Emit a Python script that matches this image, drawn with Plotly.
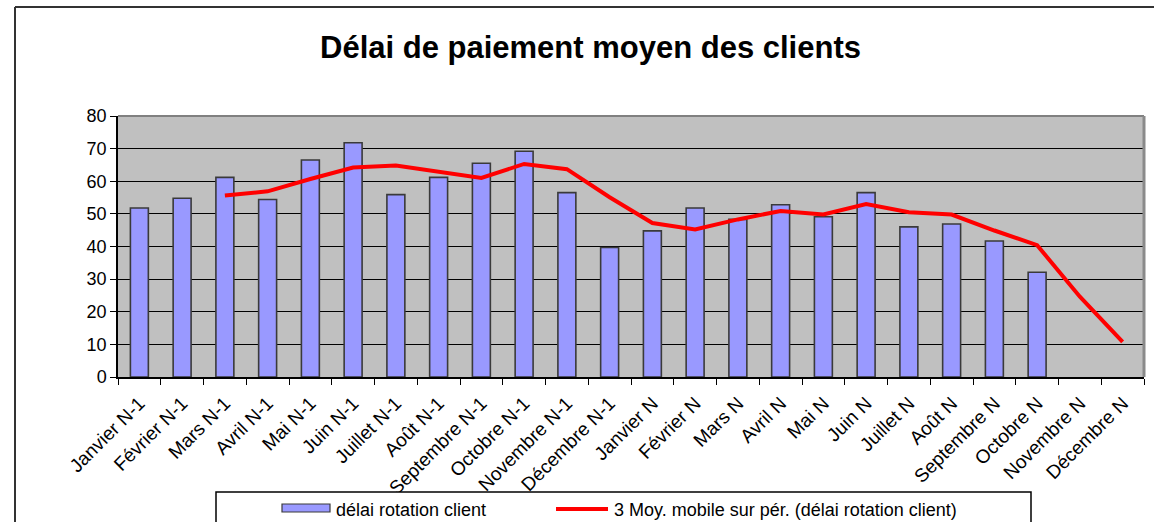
import plotly.graph_objects as go

months = ["Janvier N-1", "Février N-1", "Mars N-1", "Avril N-1", "Mai N-1", "Juin N-1",
          "Juillet N-1", "Août N-1", "Septembre N-1", "Octobre N-1", "Novembre N-1", "Décembre N-1",
          "Janvier N", "Février N", "Mars N", "Avril N", "Mai N", "Juin N",
          "Juillet N", "Août N", "Septembre N", "Octobre N", "Novembre N", "Décembre N"]

delai_rotation = [51.8, 54.8, 61.2, 54.4, 66.5, 71.8, 55.9, 61.2, 65.5, 69.2, 56.5, 39.7,
                  44.8, 51.8, 48.3, 52.8, 49.1, 56.5, 46.0, 46.9, 41.7, 32.1, None, None]

moy_mobile = [None, None, 55.6, 56.9, 60.7, 64.2, 64.8, 63.0, 61.0, 65.3, 63.7, 55.1,
              47.2, 45.2, 48.3, 50.9, 49.8, 53.0, 50.5, 49.8, 44.9, 40.4, 24.6, 10.8]

title_text = "Délai de paiement moyen des clients"
bar_name = "délai rotation client"
line_name = "3 Moy. mobile sur pér. (délai rotation client)"
y_ticks = [0, 10, 20, 30, 40, 50, 60, 70, 80]

FONT = "Liberation Sans, Arial, sans-serif"

# pixel geometry helpers (figure 1154x522, plot area 118..1144 x 116..377)
L, R, T, B = 118, 1144, 116, 377
W, H = 1154, 522


def px(x):
    return (x - L) / (R - L)


def py(y):
    return (B - y) / (B - T)


fig = go.Figure()
fig.add_trace(go.Bar(
    x=months, y=delai_rotation, name=bar_name,
    marker=dict(color="#9999FF", line=dict(color="#3a3a3a", width=1.6)),
    width=0.42, showlegend=False,
))
fig.add_trace(go.Scatter(
    x=months, y=moy_mobile, name=line_name, mode="lines",
    line=dict(color="#FF0000", width=4), connectgaps=False, showlegend=False,
))

fig.update_layout(
    width=W, height=H,
    margin=dict(l=L, r=W - R, t=T, b=H - B),
    paper_bgcolor="white", plot_bgcolor="#C0C0C0",
    font=dict(family=FONT, color="black"),
)
fig.update_xaxes(
    type="category", categoryorder="array", categoryarray=months,
    tickangle=-45, tickfont=dict(size=19, family=FONT, color="black"),
    ticks="outside", tickson="boundaries", ticklen=6, tickcolor="black",
    ticklabelstandoff=6,
    showline=True, linecolor="black", linewidth=1.5, showgrid=False,
    range=[-0.5, 23.5],
)
fig.update_yaxes(
    range=[0, 80], tickvals=y_ticks, tickfont=dict(size=18, family=FONT, color="black"),
    ticks="outside", ticklen=6, tickcolor="black",
    showline=True, linecolor="black", linewidth=1.5,
    showgrid=True, gridcolor="black", gridwidth=1.2, zeroline=False,
)

shapes = []
# plot-area top/right border (gray)
shapes.append(dict(type="line", xref="paper", yref="paper", x0=0, x1=1, y0=1, y1=1,
                   line=dict(color="#808080", width=2)))
shapes.append(dict(type="line", xref="paper", yref="paper", x0=1, x1=1, y0=0, y1=1,
                   line=dict(color="#8a8a8a", width=3)))
# outer chart frame (left and top edges visible)
shapes.append(dict(type="line", xref="paper", yref="paper", x0=px(15), x1=px(15), y0=py(530), y1=py(7),
                   line=dict(color="#333333", width=2)))
shapes.append(dict(type="line", xref="paper", yref="paper", x0=px(15), x1=px(1160), y0=py(7), y1=py(7),
                   line=dict(color="#333333", width=2)))
# legend box
shapes.append(dict(type="rect", xref="paper", yref="paper", x0=px(216), x1=px(1031), y0=py(530), y1=py(492),
                   line=dict(color="black", width=1.5), fillcolor="white"))
# legend symbols
shapes.append(dict(type="rect", xref="paper", yref="paper", x0=px(282), x1=px(330), y0=py(512), y1=py(504),
                   line=dict(color="#3a3a3a", width=1.2), fillcolor="#9999FF"))
shapes.append(dict(type="line", xref="paper", yref="paper", x0=px(556), x1=px(608), y0=py(509), y1=py(509),
                   line=dict(color="#FF0000", width=4)))
fig.update_layout(shapes=shapes)

annotations = [
    dict(text="<b>" + title_text + "</b>", xref="paper", yref="paper", x=px(590), y=py(47),
         xanchor="center", yanchor="middle", showarrow=False,
         font=dict(size=31, family=FONT, color="black")),
    dict(text=bar_name, xref="paper", yref="paper", x=px(334), y=py(510),
         xanchor="left", yanchor="middle", showarrow=False,
         font=dict(size=18, family=FONT, color="black")),
    dict(text=line_name, xref="paper", yref="paper", x=px(612), y=py(510),
         xanchor="left", yanchor="middle", showarrow=False,
         font=dict(size=18, family=FONT, color="black")),
]
fig.update_layout(annotations=annotations)

fig.write_html(
    "out.html",
    config={"displayModeBar": False},
    post_script="document.body.style.margin='0';document.body.style.overflow='hidden';",
)
